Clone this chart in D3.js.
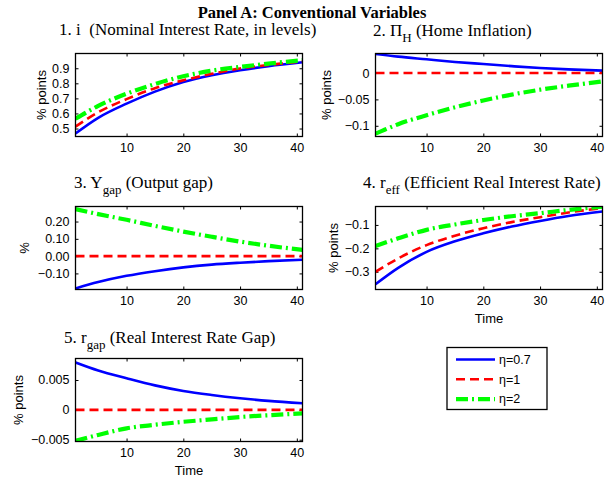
<!DOCTYPE html>
<html>
<head>
<meta charset="utf-8">
<script src="https://cdn.jsdelivr.net/npm/d3@7"></script>
<style>
  body { margin: 0; background: #fff; }
  svg text { white-space: pre; }
</style>
</head>
<body>
<div id="chart"></div>
<script>
// sample points along the horizon
const time = [1, 5, 10, 15, 20, 25, 30, 35, 41];
const etaLabels = ["η=0.7", "η=1", "η=2"];
const xTicks = [10, 20, 30, 40];

// 1. nominal interest rate
const nomRate07 = [0.467, 0.571, 0.665, 0.745, 0.809, 0.854, 0.887, 0.914, 0.940];
const nomRate1  = [0.513, 0.608, 0.695, 0.768, 0.820, 0.863, 0.898, 0.922, 0.945];
const nomRate2  = [0.565, 0.650, 0.731, 0.795, 0.847, 0.884, 0.909, 0.931, 0.953];
const nomRateTicks = [0.5, 0.6, 0.7, 0.8, 0.9];
const nomRateTickLabels = ["0.5", "0.6", "0.7", "0.8", "0.9"];

// 2. home inflation
const infl07 = [0.036, 0.031, 0.026, 0.021, 0.017, 0.013, 0.0095, 0.007, 0.0045];
const infl1  = [0, 0, 0, 0, 0, 0, 0, 0, 0];
const infl2  = [-0.115, -0.097, -0.080, -0.065, -0.052, -0.041, -0.0316, -0.024, -0.016];
const inflTicks = [0, -0.05, -0.1];
const inflTickLabels = ["0", "\u22120.05", "\u22120.1"];

// 3. output gap
const ygap07 = [-0.187, -0.150, -0.114, -0.087, -0.065, -0.049, -0.038, -0.029, -0.021];
const ygap1  = [0, 0, 0, 0, 0, 0, 0, 0, 0];
const ygap2  = [0.272, 0.243, 0.210, 0.175, 0.142, 0.112, 0.084, 0.060, 0.036];
const ygapTicks = [0.2, 0.1, 0, -0.1];
const ygapTickLabels = ["0.20", "0.10", "0.00", "\u22120.10"];

// 4. efficient real interest rate
const reff07 = [-0.353, -0.283, -0.215, -0.170, -0.136, -0.107, -0.083, -0.062, -0.043];
const reff1  = [-0.300, -0.243, -0.186, -0.146, -0.114, -0.088, -0.067, -0.047, -0.028];
const reff2  = [-0.190, -0.157, -0.121, -0.098, -0.079, -0.063, -0.050, -0.036, -0.022];
const reffTicks = [-0.1, -0.2, -0.3];
const reffTickLabels = ["\u22120.1", "\u22120.2", "\u22120.3"];

// 5. real interest rate gap
const rgap07 = [0.00795, 0.0066, 0.0053, 0.0041, 0.00317, 0.0025, 0.00195, 0.0015, 0.0011];
const rgap1  = [0, 0, 0, 0, 0, 0, 0, 0, 0];
const rgap2  = [-0.0052, -0.0042, -0.0031, -0.0025, -0.0020, -0.0016, -0.0012, -0.0009, -0.0006];
const rgapTicks = [0.005, 0, -0.005];
const rgapTickLabels = ["0.005", "0", "\u22120.005"];

const styles = [
  { color: "#0000ff", width: 2.6, dash: null },
  { color: "#ff0000", width: 2.6, dash: "9,5" },
  { color: "#00ff00", width: 4.2, dash: "12,4,2,4" }
];

const panels = [
  { x: 75.5, y: 53.5, series: [nomRate07, nomRate1, nomRate2], ydom: [0.447, 0.998],
    ticks: nomRateTicks, tickLabels: nomRateTickLabels, ylabel: "% points", ylx: 41,
    title: ["1. i  (Nominal Interest Rate, in levels)"], tx: 59, ty: 34.5 },
  { x: 375.5, y: 53.5, series: [infl07, infl1, infl2], ydom: [-0.1203, 0.037],
    ticks: inflTicks, tickLabels: inflTickLabels, ylabel: "% points", ylx: 326,
    title: ["2. \u03A0", "H", " (Home Inflation)"], tx: 373, ty: 35.5 },
  { x: 75.5, y: 206.5, series: [ygap07, ygap1, ygap2], ydom: [-0.193, 0.287],
    ticks: ygapTicks, tickLabels: ygapTickLabels, ylabel: "%", ylx: 24,
    title: ["3. Y", "gap", " (Output gap)"], tx: 74, ty: 188 },
  { x: 375.5, y: 206.5, series: [reff07, reff1, reff2], ydom: [-0.3755, -0.0214],
    ticks: reffTicks, tickLabels: reffTickLabels, ylabel: "% points", ylx: 333,
    title: ["4. r", "eff", " (Efficient Real Interest Rate)"], tx: 363, ty: 188, xlabel: "Time" },
  { x: 75.5, y: 358.5, series: [rgap07, rgap1, rgap2], ydom: [-0.0053, 0.0086],
    ticks: rgapTicks, tickLabels: rgapTickLabels, ylabel: "% points", ylx: 18,
    title: ["5. r", "gap", " (Real Interest Rate Gap)"], tx: 64, ty: 343, xlabel: "Time" }
];

const W = 606, H = 480, pw = 227, ph = 83;
const sans = "'Liberation Sans', Arial, sans-serif";
const serif = "'Liberation Serif', 'Times New Roman', serif";

const svg = d3.select("#chart").append("svg")
  .attr("width", W).attr("height", H);

svg.append("text")
  .attr("x", 312).attr("y", 17.5)
  .attr("text-anchor", "middle")
  .style("font-family", serif).style("font-size", "16.5px").style("font-weight", "bold")
  .text("Panel A: Conventional Variables");

panels.forEach((p, i) => {
  const x = d3.scaleLinear().domain([1, 41]).range([0, pw]);
  const y = d3.scaleLinear().domain(p.ydom).range([ph, 0]);
  const g = svg.append("g").attr("transform", `translate(${p.x},${p.y})`);

  g.append("clipPath").attr("id", "clip" + i)
    .append("rect").attr("width", pw).attr("height", ph);

  // axes with inward ticks
  const ax = g.append("g")
    .attr("transform", `translate(0,${ph})`)
    .call(d3.axisBottom(x).tickValues(xTicks).tickSizeInner(-3).tickSizeOuter(0).tickPadding(7));
  const ay = g.append("g")
    .call(d3.axisLeft(y).tickValues(p.ticks).tickFormat((d, k) => p.tickLabels[k])
      .tickSizeInner(-3).tickSizeOuter(0).tickPadding(6));
  g.append("g").attr("transform", `translate(${pw},0)`)
    .call(d3.axisRight(y).tickValues(p.ticks).tickFormat("").tickSizeInner(-3).tickSizeOuter(0));
  g.append("g")
    .call(d3.axisTop(x).tickValues(xTicks).tickFormat("").tickSizeInner(-3).tickSizeOuter(0));
  g.selectAll(".domain").remove();
  g.selectAll(".tick line").attr("stroke", "#000");
  [ax, ay].forEach(a => a.selectAll("text")
    .style("font-family", sans).style("font-size", "12.5px").attr("fill", "#000"));

  const line = d3.line()
    .x((d, k) => x(time[k]))
    .y(d => y(d))
    .curve(d3.curveMonotoneX);

  p.series.forEach((s, k) => {
    g.append("path")
      .datum(s)
      .attr("clip-path", `url(#clip${i})`)
      .attr("fill", "none")
      .attr("stroke", styles[k].color)
      .attr("stroke-width", styles[k].width)
      .attr("stroke-dasharray", styles[k].dash)
      .attr("d", line);
  });

  g.append("rect")
    .attr("width", pw).attr("height", ph)
    .attr("fill", "none").attr("stroke", "#000").attr("stroke-width", 1.3);

  // y label
  svg.append("text")
    .attr("transform", `translate(${p.ylx},${p.y + ph / 2}) rotate(-90)`)
    .attr("text-anchor", "middle").attr("dominant-baseline", "central")
    .style("font-family", sans).style("font-size", "13px")
    .text(p.ylabel);

  // title with optional subscript
  const t = svg.append("text")
    .attr("x", p.tx).attr("y", p.ty)
    .style("font-family", serif).style("font-size", "17px");
  t.append("tspan").text(p.title[0]);
  if (p.title.length > 1) {
    t.append("tspan").attr("dy", 6).style("font-size", "13px").text(p.title[1]);
    t.append("tspan").attr("dy", -6).text(p.title[2]);
  }

  if (p.xlabel) {
    svg.append("text")
      .attr("x", p.x + pw / 2).attr("y", p.y + ph + 33)
      .attr("text-anchor", "middle")
      .style("font-family", sans).style("font-size", "13px")
      .text(p.xlabel);
  }
});

// legend
const lg = svg.append("g").attr("transform", "translate(447,347.5)");
lg.append("rect")
  .attr("width", 100).attr("height", 62)
  .attr("fill", "#fff").attr("stroke", "#000").attr("stroke-width", 1.3);
etaLabels.forEach((lab, k) => {
  const yy = 12 + k * 19.8;
  lg.append("line")
    .attr("x1", 9).attr("x2", 48).attr("y1", yy).attr("y2", yy)
    .attr("stroke", styles[k].color)
    .attr("stroke-width", styles[k].width)
    .attr("stroke-dasharray", styles[k].dash);
  lg.append("text")
    .attr("x", 52).attr("y", yy).attr("dy", "0.35em")
    .style("font-family", sans).style("font-size", "12.5px")
    .text(lab);
});
</script>
</body>
</html>
